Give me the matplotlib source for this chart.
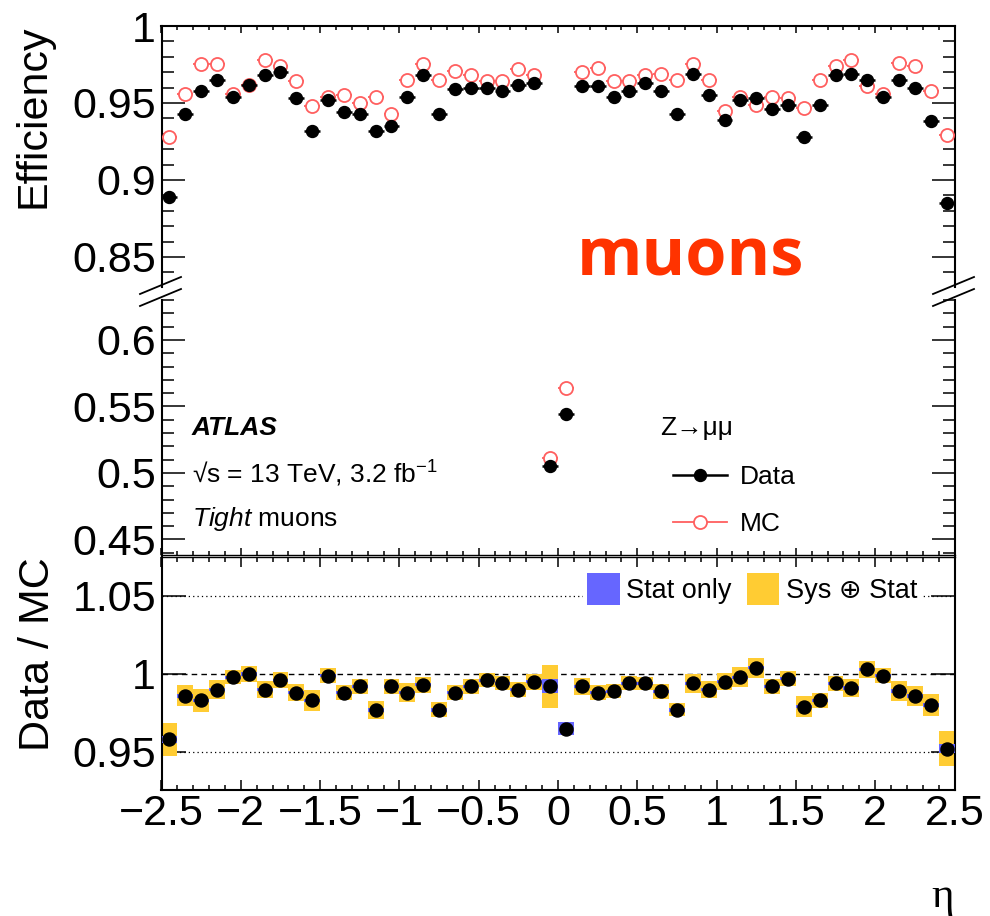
import numpy as np
import matplotlib
matplotlib.use('Agg')
import matplotlib.pyplot as plt
from matplotlib.lines import Line2D
from matplotlib.patches import Patch
from matplotlib.ticker import MultipleLocator, FixedLocator, FuncFormatter

plt.rcParams['font.family'] = ['Liberation Sans', 'DejaVu Sans']
plt.rcParams['mathtext.fontset'] = 'custom'
plt.rcParams['mathtext.rm'] = 'Liberation Sans'
plt.rcParams['mathtext.it'] = 'Liberation Sans:italic'
plt.rcParams['mathtext.bf'] = 'Liberation Sans:bold'

# ---------------- data ----------------
eta_edges = np.round(np.linspace(-2.5, 2.5, 51), 3)
eta = 0.5 * (eta_edges[:-1] + eta_edges[1:])

eff_data = [0.889, 0.943, 0.958, 0.965, 0.954, 0.962, 0.968, 0.970, 0.953, 0.932,
            0.952, 0.944, 0.943, 0.932, 0.935, 0.954, 0.968, 0.943, 0.959, 0.960,
            0.960, 0.958, 0.962, 0.963, 0.505, 0.544, 0.961, 0.961, 0.954, 0.958,
            0.963, 0.958, 0.943, 0.969, 0.955, 0.939, 0.952, 0.953, 0.946, 0.949,
            0.928, 0.949, 0.968, 0.969, 0.965, 0.954, 0.965, 0.960, 0.938, 0.885]

eff_mc = [0.928, 0.956, 0.975, 0.975, 0.956, 0.962, 0.978, 0.974, 0.964, 0.948,
          0.954, 0.955, 0.950, 0.954, 0.943, 0.965, 0.975, 0.965, 0.971, 0.968,
          0.964, 0.964, 0.972, 0.968, 0.511, 0.564, 0.970, 0.973, 0.964, 0.964,
          0.968, 0.969, 0.965, 0.975, 0.965, 0.945, 0.954, 0.949, 0.954, 0.953,
          0.947, 0.965, 0.974, 0.978, 0.961, 0.956, 0.976, 0.974, 0.958, 0.929]

ratio = [0.958, 0.986, 0.983, 0.990, 0.998, 1.000, 0.990, 0.996, 0.988, 0.983,
         0.999, 0.988, 0.992, 0.977, 0.992, 0.988, 0.993, 0.977, 0.988, 0.992,
         0.996, 0.994, 0.990, 0.995, 0.992, 0.965, 0.992, 0.988, 0.989, 0.994,
         0.994, 0.989, 0.977, 0.994, 0.990, 0.995, 0.998, 1.004, 0.992, 0.997,
         0.979, 0.983, 0.994, 0.991, 1.003, 0.999, 0.989, 0.986, 0.980, 0.952]

ratio_sys = [0.0108, 0.0067, 0.0072, 0.0059, 0.0044, 0.0053, 0.0057, 0.0051, 0.0053, 0.0069,
             0.0048, 0.0049, 0.0046, 0.0056, 0.0050, 0.0059, 0.0053, 0.0048, 0.0050, 0.0048,
             0.0045, 0.0045, 0.0046, 0.0051, 0.0139, 0.0041, 0.0053, 0.0048, 0.0045, 0.0046,
             0.0043, 0.0048, 0.0041, 0.0061, 0.0057, 0.0053, 0.0064, 0.0064, 0.0048, 0.0048,
             0.0066, 0.0047, 0.0048, 0.0059, 0.0053, 0.0048, 0.0062, 0.0066, 0.0072, 0.0112]

ratio_stat = [0.0025, 0.0012, 0.0012, 0.0011, 0.0010, 0.0010, 0.0010, 0.0010, 0.0010, 0.0011,
              0.0010, 0.0010, 0.0010, 0.0011, 0.0010, 0.0010, 0.0010, 0.0011, 0.0010, 0.0010,
              0.0010, 0.0010, 0.0010, 0.0011, 0.0045, 0.0040, 0.0011, 0.0010, 0.0010, 0.0010,
              0.0010, 0.0010, 0.0011, 0.0010, 0.0010, 0.0010, 0.0010, 0.0010, 0.0010, 0.0010,
              0.0011, 0.0010, 0.0010, 0.0010, 0.0010, 0.0010, 0.0011, 0.0012, 0.0012, 0.0028]

eff_err = 0.001
bin_half = 0.05

# ---------------- style ----------------
C_MC = '#FF5F5F'
C_STAT = '#6666FF'
C_SYS = '#FFCC33'
FS_TICK = 31
FS_TXT = 19
MS_DATA = 8.6
MS_MC = 9.4

fig = plt.figure(figsize=(9.9, 9.16), dpi=100)
W, H = 990.0, 916.0
xl, xr = 161.5, 954.5


def axes_px(top, bottom):
    return fig.add_axes([xl / W, 1 - bottom / H, (xr - xl) / W, (bottom - top) / H])


ax_top = axes_px(26, 287)
ax_mid = axes_px(300, 555)
ax_rat = axes_px(557, 790)

fmt_g = FuncFormatter(lambda v, p: ('%g' % round(v, 4)).replace('-', '\u2212'))

for ax in (ax_top, ax_mid, ax_rat):
    ax.set_xlim(-2.5, 2.5)
    ax.xaxis.set_major_locator(MultipleLocator(0.5))
    ax.xaxis.set_minor_locator(MultipleLocator(0.1))
    ax.xaxis.set_major_formatter(fmt_g)
    ax.yaxis.set_major_formatter(fmt_g)
    for s in ax.spines.values():
        s.set_linewidth(1.5)
    ax.tick_params(axis='y', which='both', direction='in', left=True, right=True,
                   labelsize=FS_TICK, pad=4, width=1.1)
    ax.tick_params(axis='y', which='major', length=16.5)
    ax.tick_params(axis='y', which='minor', length=8.6)
    ax.tick_params(axis='x', which='both', direction='in', width=1.1, labelsize=FS_TICK)

# top panel
ax_top.set_ylim(0.8305, 1.0)
ax_top.yaxis.set_major_locator(MultipleLocator(0.05))
ax_top.yaxis.set_minor_locator(MultipleLocator(0.01))
ax_top.spines['bottom'].set_visible(False)
ax_top.tick_params(axis='x', which='both', top=True, bottom=False, labelbottom=False)
ax_top.tick_params(axis='x', which='major', length=5.2)
ax_top.tick_params(axis='x', which='minor', length=2.9)

# middle panel
ax_mid.set_ylim(0.4383, 0.630)
ax_mid.yaxis.set_major_locator(MultipleLocator(0.05))
ax_mid.yaxis.set_minor_locator(MultipleLocator(0.01))
ax_mid.spines['top'].set_visible(False)
ax_mid.spines['bottom'].set_linewidth(1.0)
ax_mid.tick_params(axis='x', which='both', top=False, bottom=True, labelbottom=False)
ax_mid.tick_params(axis='x', which='major', length=5.2)
ax_mid.tick_params(axis='x', which='minor', length=2.9)

# ratio panel
ax_rat.set_ylim(0.9256, 1.075)
ax_rat.spines['top'].set_linewidth(1.0)
ax_rat.yaxis.set_major_locator(FixedLocator([0.95, 1.0, 1.05]))
ax_rat.tick_params(axis='y', which='major', length=17)
ax_rat.tick_params(axis='x', which='both', top=True, bottom=True, labelbottom=True, pad=3)
ax_rat.tick_params(axis='x', which='major', length=7.2)
ax_rat.tick_params(axis='x', which='minor', length=3.6)

# ---------------- efficiency points ----------------
for ax in (ax_top, ax_mid):
    ax.errorbar(eta, eff_mc, xerr=bin_half, yerr=eff_err, fmt='o', mfc='white', mec=C_MC,
                ecolor=C_MC, ms=MS_MC, mew=1.3, elinewidth=1.3, capsize=0, zorder=3)
    ax.errorbar(eta, eff_data, xerr=bin_half, yerr=eff_err, fmt='o', color='black',
                ms=MS_DATA, elinewidth=1.8, capsize=0, zorder=4)

# ---------------- ratio ----------------
ratio_a = np.array(ratio)
sys_a = np.array(ratio_sys)
stat_a = np.array(ratio_stat)
ax_rat.axhline(1.0, color='black', lw=1.0, ls=(0, (4, 3)), zorder=1)
ax_rat.axhline(1.05, color='black', lw=0.9, ls=(0, (1, 2.5)), zorder=1)
ax_rat.axhline(0.95, color='black', lw=0.9, ls=(0, (1, 2.5)), zorder=1)
ax_rat.bar(eta, 2 * sys_a, bottom=ratio_a - sys_a, width=0.1, color=C_SYS, lw=0, zorder=2)
ax_rat.bar(eta, 2 * stat_a, bottom=ratio_a - stat_a, width=0.1, color=C_STAT, lw=0, zorder=3)
ax_rat.plot(eta, ratio, 'o', color='black', ms=9.4, zorder=4)

leg_r = ax_rat.legend(handles=[Patch(facecolor=C_STAT, lw=0), Patch(facecolor=C_SYS, lw=0)],
                      labels=['Stat only', 'Sys \u2295 Stat'], ncol=2, fontsize=19.5,
                      loc='center left', bbox_to_anchor=(583 / W, 1 - 589 / H),
                      bbox_transform=fig.transFigure, frameon=True, fancybox=False,
                      edgecolor='none', facecolor='white', framealpha=1,
                      borderpad=0.15, borderaxespad=0, handlelength=1.2, handleheight=1.4,
                      handletextpad=0.25, columnspacing=0.55)
leg_r.set_zorder(5)

# ---------------- texts ----------------
ax_mid.text(192 / W, 1 - 428 / H, 'ATLAS', transform=fig.transFigure, fontsize=FS_TXT,
            fontweight='bold', fontstyle='italic', va='center', ha='left')
ax_mid.text(192 / W, 1 - 474 / H, '\u221As = 13 TeV, 3.2 fb$^{\u22121}$', transform=fig.transFigure,
            fontsize=FS_TXT, va='center', ha='left')
ax_mid.text(192 / W, 1 - 519 / H, r'$\mathit{Tight}$ muons', transform=fig.transFigure,
            fontsize=FS_TXT, va='center', ha='left')
ax_mid.text(660 / W, 1 - 428 / H, 'Z\u2192\u03bc\u03bc', transform=fig.transFigure,
            fontsize=FS_TXT, va='center', ha='left')

leg = ax_mid.legend(handles=[Line2D([], [], color='black', marker='o', ms=MS_DATA, lw=1.8),
                             Line2D([], [], color=C_MC, marker='o', ms=MS_MC, mfc='white',
                                    mec=C_MC, mew=1.3, lw=1.3)],
                    labels=['Data', 'MC'], fontsize=FS_TXT, loc='upper left',
                    bbox_to_anchor=(673 / W, 1 - 465 / H), bbox_transform=fig.transFigure,
                    frameon=False, borderpad=0, borderaxespad=0, handlelength=2.05,
                    handletextpad=0.5, labelspacing=0.87)

fig.text(577 / W, 1 - 275 / H, 'muons', color='#FF3300', fontsize=48,
         family='Open Sans', fontweight='bold', ha='left', va='baseline')

fig.text(34 / W, 1 - 25 / H, 'Efficiency', rotation=90, fontsize=FS_TICK, ha='center', va='top')
fig.text(38 / W, 1 - 557 / H, 'Data / MC', rotation=90, fontsize=FS_TICK, ha='center', va='top')
fig.text(954 / W, 1 - 897 / H, '\u03b7', family=['Liberation Serif', 'DejaVu Serif'],
         fontsize=FS_TICK, ha='right', va='center')

# ---------------- axis break marks ----------------
for x0 in (140, 933):
    for y0 in (294, 306):
        fig.add_artist(Line2D([x0 / W, (x0 + 41) / W], [1 - y0 / H, 1 - (y0 - 17) / H],
                              color='black', lw=1.3, transform=fig.transFigure))

fig.savefig('out.png', dpi=100)
